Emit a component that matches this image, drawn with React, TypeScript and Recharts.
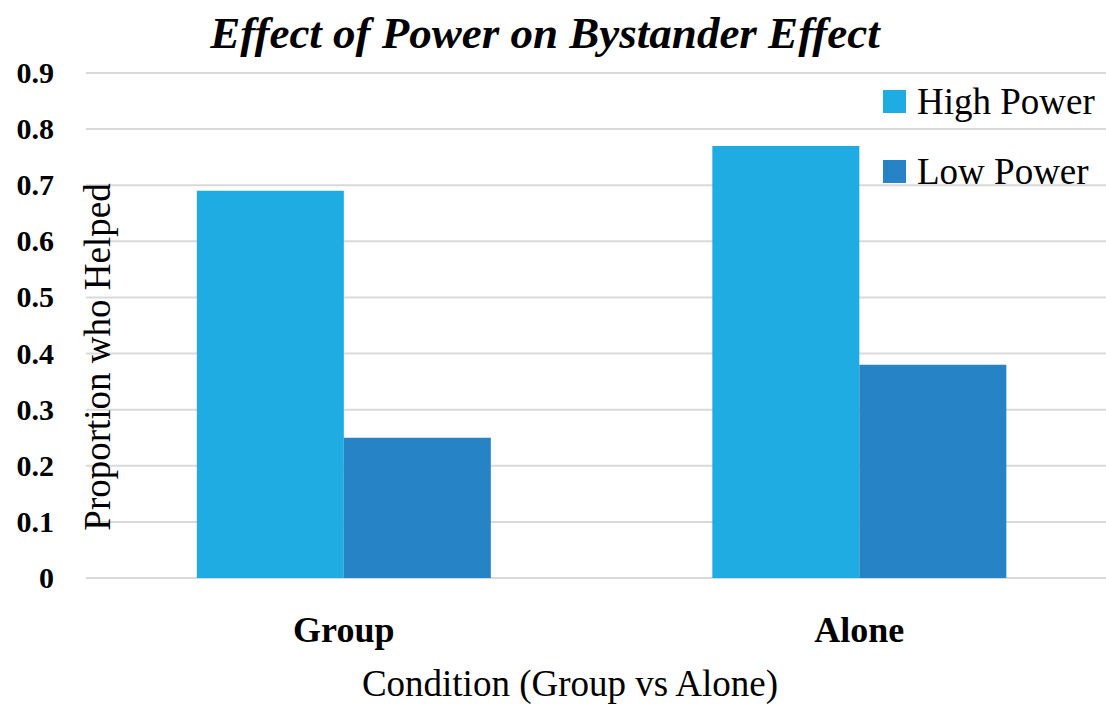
import React from "react";
import { BarChart, Bar, XAxis, YAxis, CartesianGrid, Customized } from "recharts";

const categories = ["Group", "Alone"];
const highPower = [0.69, 0.77];
const lowPower = [0.25, 0.38];
const yTicks = [0, 0.1, 0.2, 0.3, 0.4, 0.5, 0.6, 0.7, 0.8, 0.9];
const yTickLabels = ["0", "0.1", "0.2", "0.3", "0.4", "0.5", "0.6", "0.7", "0.8", "0.9"];
const seriesNames = ["High Power", "Low Power"];
const seriesColors = ["#1FACE3", "#2683C6"];

const data = categories.map((c, i) => ({ name: c, high: highPower[i], low: lowPower[i] }));

const FONT = "'Liberation Serif', 'Times New Roman', serif";

const XTick = (props: any) => {
  const { x, y, payload } = props;
  return (
    <text x={x} y={y + 64} textAnchor="middle" fontFamily={FONT} fontWeight="bold" fontSize={36} fill="#000">
      {payload.value}
    </text>
  );
};

const YTick = (props: any) => {
  const { x, y, payload, index } = props;
  return (
    <text x={x} y={y} dy={10} textAnchor="end" fontFamily={FONT} fontWeight="bold" fontSize={30} fill="#000">
      {yTickLabels[index] ?? String(payload.value)}
    </text>
  );
};

const LegendBox = () => (
  <div style={{ position: "absolute", left: 883, top: 66, fontFamily: FONT, fontSize: 37, color: "#000" }}>
    {seriesNames.map((n, i) => (
      <div key={n} style={{ display: "flex", alignItems: "center", height: 70, whiteSpace: "nowrap" }}>
        <span style={{ display: "inline-block", width: 23, height: 23, background: seriesColors[i], marginRight: 11 }} />
        <span>{n}</span>
      </div>
    ))}
  </div>
);

const Title = () => (
  <text x={545} y={48} textAnchor="middle" fontFamily={FONT} fontWeight="bold" fontStyle="italic" fontSize={45} fill="#000">
    Effect of Power on Bystander Effect
  </text>
);

export default function App() {
  return (
    <div style={{ position: "absolute", left: 0, top: 0, width: 1106, height: 704, overflow: "hidden", background: "#fff" }}>
      <BarChart
        width={1117}
        height={704}
        data={data}
        margin={{ top: 73, right: 0, bottom: 26, left: 0 }}
        barCategoryGap="21.5%"
        barGap={0}
      >
        <CartesianGrid vertical={false} stroke="#D9D9D9" strokeWidth={2} />
        <XAxis
          dataKey="name"
          axisLine={false}
          tickLine={false}
          tickSize={0}
          tickMargin={0}
          height={100}
          tick={<XTick />}
          label={() => (
            <text x={570} y={696} textAnchor="middle" fontFamily={FONT} fontSize={37} fill="#000">
              Condition (Group vs Alone)
            </text>
          )}
        />
        <YAxis
          width={86}
          domain={[0, 0.9]}
          ticks={yTicks}
          interval={0}
          axisLine={false}
          tickLine={false}
          tickSize={0}
          tickMargin={32}
          tick={<YTick />}
          label={() => (
            <text
              x={97}
              y={357}
              transform="rotate(-90 97 357)"
              textAnchor="middle"
              dominantBaseline="central"
              fontFamily={FONT}
              fontSize={37}
              fill="#000"
            >
              Proportion who Helped
            </text>
          )}
        />
        <Bar dataKey="high" name={seriesNames[0]} fill={seriesColors[0]} isAnimationActive={false} />
        <Bar dataKey="low" name={seriesNames[1]} fill={seriesColors[1]} isAnimationActive={false} />
        <Customized component={<Title />} />
      </BarChart>
      <LegendBox />
    </div>
  );
}
